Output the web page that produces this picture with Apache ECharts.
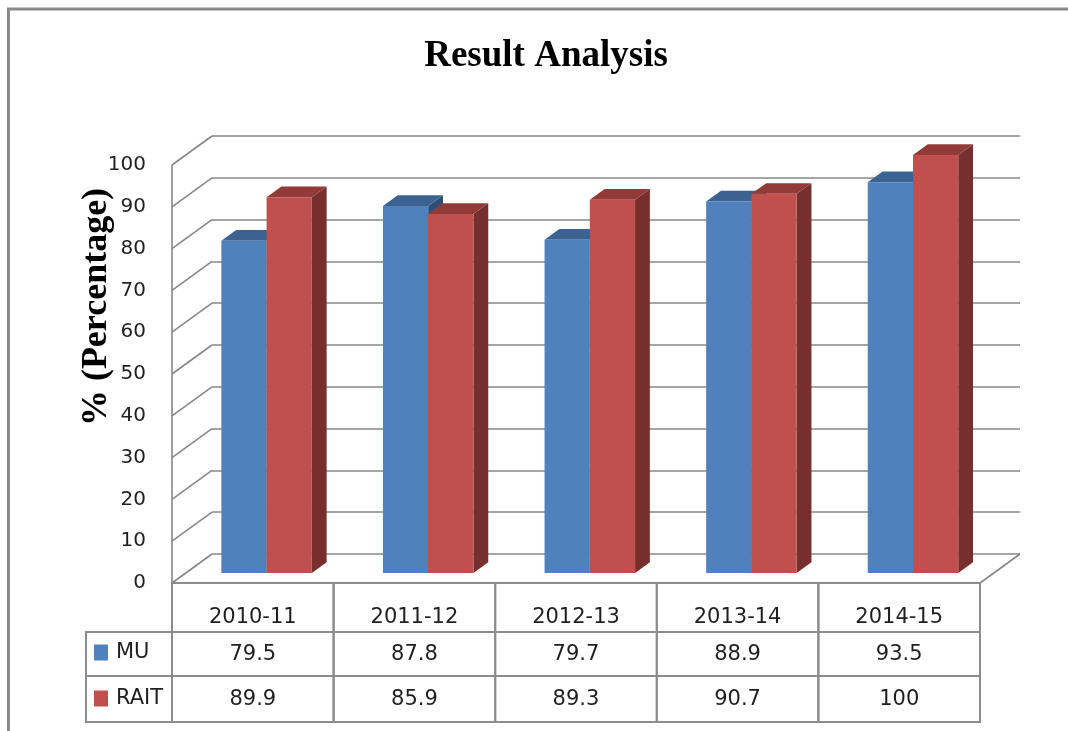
<!DOCTYPE html>
<html><head><meta charset="utf-8">
<script src="https://cdn.jsdelivr.net/npm/echarts@6/dist/echarts.min.js"></script>
<style>html,body{margin:0;padding:0;background:#fff}#c{width:1068px;height:731px}</style>
</head><body><div id="c"></div>
<script>
// ---- data ----
const CATEGORIES = ['2010-11', '2011-12', '2012-13', '2013-14', '2014-15'];
const MU = [79.5, 87.8, 79.7, 88.9, 93.5];
const RAIT = [89.9, 85.9, 89.3, 90.7, 100];
const SERIES_NAMES = ['MU', 'RAIT'];
const Y_TICKS = [0, 10, 20, 30, 40, 50, 60, 70, 80, 90, 100];
const TITLE = 'Result Analysis';
const Y_NAME = '% (Percentage)';

// ---- layout / style ----
const FRONT = {left: 172, right: 88, top: 165, bottom: 148};
const DEPTH = [40, -29];
const BAR_D0 = 0.345, BAR_DD = 0.37, BAR_FRAC = 0.28;
const COLORS = {
  MU: {front: '#4F81BD', top: '#3B6291', side: '#2F4E75'},
  RAIT: {front: '#C0504D', top: '#923A38', side: '#772F2D'}
};
const GRID_COLOR = '#878787';
const TABLE_COLOR = '#8c8c8c';
const ROW_H = [49, 44, 46];
const LEGEND_COL_W = 86;
const TEXT_FONT = 'DejaVu Sans';
const TEXT_COLOR = '#1f1f1f';

function barRenderer(name, sideSign) {
  return function (params, api) {
    const i = api.value(0), v = api.value(1);
    const p0 = api.coord([i, 0]), p1 = api.coord([i, v]);
    const bw = api.size([1, 0])[0] * BAR_FRAC;
    const ox = DEPTH[0] * BAR_D0, oy = DEPTH[1] * BAR_D0;
    const dx = DEPTH[0] * BAR_DD, dy = DEPTH[1] * BAR_DD;
    const x = p0[0] + ox + (sideSign < 0 ? -bw : 0);
    const yb = p0[1] + oy, yt = p1[1] + oy;
    const c = COLORS[name];
    return {type: 'group', children: [
      {type: 'polygon', shape: {points: [[x + bw, yt], [x + bw + dx, yt + dy], [x + bw + dx, yb + dy], [x + bw, yb]]}, style: {fill: c.side}},
      {type: 'polygon', shape: {points: [[x, yt], [x + bw, yt], [x + bw + dx, yt + dy], [x + dx, yt + dy]]}, style: {fill: c.top}},
      {type: 'rect', shape: {x: x, y: yt, width: bw, height: yb - yt}, style: {fill: c.front}}
    ]};
  };
}

function wallRenderer(params, api) {
  const cs = params.coordSys;
  const t = api.value(1);
  const y = api.coord([0, t])[1];
  const ls = {stroke: GRID_COLOR, lineWidth: 1.6};
  const ch = [{type: 'line', shape: {x1: cs.x, y1: y, x2: cs.x + DEPTH[0], y2: y + DEPTH[1]}, style: ls}];
  if (t === Y_TICKS[0]) {
    ch.push({type: 'line', shape: {x1: cs.x + cs.width, y1: y, x2: cs.x + cs.width + DEPTH[0], y2: y + DEPTH[1]}, style: ls});
    ch.push({type: 'line', shape: {x1: cs.x, y1: y, x2: cs.x, y2: cs.y}, style: ls});
  }
  return {type: 'group', children: ch};
}

function tableRenderer(params, api) {
  const cs = params.coordSys;
  const i = api.value(0);
  const cw = api.size([1, 0])[0];
  const cx = api.coord([i, 0])[0];
  const x0 = cx - cw / 2;
  const y0 = cs.y + cs.height;
  const r1 = y0 + ROW_H[0], r2 = r1 + ROW_H[1];
  const bs = {fill: 'none', stroke: TABLE_COLOR, lineWidth: 2};
  const txt = (s, x, y) => ({type: 'text', style: {text: s, x: x, y: y, align: 'center', verticalAlign: 'middle',
    fontSize: 21, fontFamily: TEXT_FONT, fill: TEXT_COLOR}});
  const ch = [
    {type: 'rect', shape: {x: x0, y: y0, width: cw, height: ROW_H[0]}, style: bs},
    {type: 'rect', shape: {x: x0, y: r1, width: cw, height: ROW_H[1]}, style: bs},
    {type: 'rect', shape: {x: x0, y: r2, width: cw, height: ROW_H[2]}, style: bs},
    txt(CATEGORIES[i], cx, y0 + 35),
    txt(String(api.value(1)), cx, r1 + ROW_H[1] / 2 + 1),
    txt(String(api.value(2)), cx, r2 + ROW_H[2] / 2 + 1)
  ];
  if (i === 0) {
    ch.push({type: 'rect', shape: {x: cs.x - LEGEND_COL_W, y: r1, width: LEGEND_COL_W, height: ROW_H[1]}, style: bs});
    ch.push({type: 'rect', shape: {x: cs.x - LEGEND_COL_W, y: r2, width: LEGEND_COL_W, height: ROW_H[2]}, style: bs});
  }
  return {type: 'group', children: ch};
}

const chart = echarts.init(document.getElementById('c'), null, {renderer: 'canvas'});
const back = {left: FRONT.left + DEPTH[0], right: FRONT.right - DEPTH[0], top: FRONT.top + DEPTH[1], bottom: FRONT.bottom - DEPTH[1]};

chart.setOption({
  animation: false,
  backgroundColor: '#fff',
  title: {
    text: TITLE, left: 541, textAlign: 'center', top: 33,
    textStyle: {fontFamily: 'Liberation Serif', fontWeight: 'bold', fontSize: 37, color: '#000'}
  },
  legend: {
    data: SERIES_NAMES, orient: 'vertical', left: 94, top: 642, itemWidth: 14, itemHeight: 16, itemGap: 25,
    icon: 'rect', padding: 0, selectedMode: false,
    textStyle: {fontSize: 21, fontFamily: TEXT_FONT, color: TEXT_COLOR, padding: [0, 0, 0, 3]}
  },
  grid: [
    {left: FRONT.left, right: FRONT.right, top: FRONT.top, bottom: FRONT.bottom},
    {left: back.left, right: back.right, top: back.top, bottom: back.bottom}
  ],
  xAxis: [
    {type: 'category', data: CATEGORIES, gridIndex: 0, show: false},
    {type: 'category', data: CATEGORIES, gridIndex: 1, show: false}
  ],
  yAxis: [
    {type: 'value', gridIndex: 0, min: 0, max: 100, interval: 10,
      axisLine: {show: false}, axisTick: {show: false}, splitLine: {show: false},
      axisLabel: {margin: 26, fontSize: 20, fontFamily: TEXT_FONT, color: TEXT_COLOR}},
    {type: 'value', gridIndex: 1, min: 0, max: 100, interval: 10,
      axisLine: {show: false}, axisTick: {show: false}, axisLabel: {show: false},
      splitLine: {show: true, lineStyle: {color: GRID_COLOR, width: 1.6}}}
  ],
  graphic: [
    {type: 'line', shape: {x1: 7, y1: 9, x2: 1068, y2: 9}, style: {stroke: '#8a8a8a', lineWidth: 3}},
    {type: 'line', shape: {x1: 8.5, y1: 8, x2: 8.5, y2: 731}, style: {stroke: '#8a8a8a', lineWidth: 3}},
    {type: 'text', x: 97, y: 307, rotation: Math.PI / 2,
      style: {text: Y_NAME, align: 'center', verticalAlign: 'middle', fontSize: 36, fontWeight: 'bold',
        fontFamily: 'Liberation Serif', fill: '#000'}}
  ],
  series: [
    {type: 'custom', name: 'walls', xAxisIndex: 0, yAxisIndex: 0, silent: true, z: 1,
      data: Y_TICKS.map(t => [0, t]), renderItem: wallRenderer},
    {type: 'custom', name: SERIES_NAMES[0], xAxisIndex: 0, yAxisIndex: 0, z: 2,
      itemStyle: {color: COLORS.MU.front},
      data: MU.map((v, i) => [i, v]), renderItem: barRenderer('MU', -1)},
    {type: 'custom', name: SERIES_NAMES[1], xAxisIndex: 0, yAxisIndex: 0, z: 3,
      itemStyle: {color: COLORS.RAIT.front},
      data: RAIT.map((v, i) => [i, v]), renderItem: barRenderer('RAIT', 1)},
    {type: 'custom', name: 'table', xAxisIndex: 0, yAxisIndex: 0, silent: true, z: 4,
      data: CATEGORIES.map((c, i) => [i, MU[i], RAIT[i]]), renderItem: tableRenderer}
  ]
});
</script></body></html>
